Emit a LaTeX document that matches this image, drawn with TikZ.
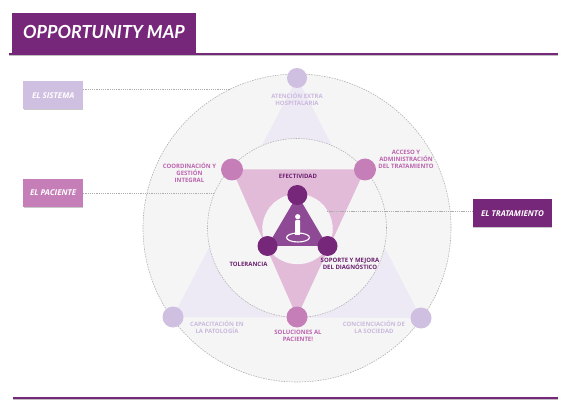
\documentclass[tikz,border=0pt]{standalone}
\usepackage{fontspec}
\setmainfont{Open Sans}
\newfontfamily\titlefont{Lato}
\usetikzlibrary{shadows,shapes.geometric}
\definecolor{cdark}{HTML}{77277A}
\definecolor{cmid}{HTML}{C57EB7}
\definecolor{clight}{HTML}{CFBFE0}
\definecolor{clav}{HTML}{EDE9F5}
\definecolor{cpink}{HTML}{E2BBD9}
\definecolor{cgrey}{HTML}{F5F5F5}
\definecolor{ccore}{HTML}{8F4A96}
\definecolor{tmid}{HTML}{BC62AE}
\definecolor{tlight}{HTML}{CBB9DE}
\definecolor{tdark}{HTML}{6A1F6E}
\tikzset{
  x=1pt,y=-1pt,
  ring/.style={circle,inner sep=0pt,minimum size=#1,draw=black!30,dash pattern=on 1.5pt off 1.1pt,line width=.6pt,fill=cgrey},
  dotc/.style={circle,inner sep=0pt,minimum size=#1},
  box/.style={inner sep=0pt,minimum height=28.5pt,font=\fontsize{8}{9}\selectfont\bfseries\itshape,text=white,
     drop shadow={shadow xshift=0.3pt,shadow yshift=-1pt,fill=black!35,opacity=.6}},
  lead/.style={draw=black!32,dash pattern=on 1.3pt off .9pt,line width=.9pt},
  lbl/.style={align=center,inner sep=0pt,font=\fontsize{6}{7}\selectfont\bfseries},
}
\begin{document}
\begin{tikzpicture}
\useasboundingbox (0,0) rectangle (580,419);
\fill[white] (0,0) rectangle (580,419);
% rules and header
\coordinate (ruleA) at (9,54);
\coordinate (ruleB) at (558,54);
\coordinate (ruleC) at (13,398);
\coordinate (ruleD) at (558,398);
\draw[black!25,line width=1pt] (9,55.3) -- (558,55.3);
\draw[cdark,line width=1.2pt] (ruleA) -- (ruleB);
\draw[black!25,line width=1pt] (13,399.5) -- (558,399.5);
\draw[cdark,line width=1.2pt] (ruleC) -- (ruleD);
\node[fill=cdark,inner sep=0pt,minimum width=184pt,minimum height=41.5pt,anchor=north west] (header) at (11.5,12.5) {};
\node[text=white,font=\titlefont\fontsize{18}{20}\selectfont\bfseries\itshape,inner sep=0pt] (title) at (104,31.5) {OPPORTUNITY MAP};
% rings
\node[ring=308pt] (outer) at (297,228) {};
\fill[clav] (297,78) -- (173,317) -- (421,318) -- cycle;
\node[ring=179pt] (inner) at (297,228) {};
\fill[cpink] (232,169.5) -- (365,169.5) -- (297,317) -- cycle;
\node[dotc=70pt,fill=cgrey,draw=white,dash pattern=on 1pt off .8pt,line width=.4pt] (core) at (297.5,229) {};
\fill[ccore] (297.5,195) -- (267.5,246) -- (327.5,246) -- cycle;
% dots
\node[dotc=20pt,fill=clight] (n1) at (297,78) {};
\node[dotc=21pt,fill=clight] (n2) at (173,317) {};
\node[dotc=21pt,fill=clight] (n3) at (421,318) {};
\node[dotc=22pt,fill=cmid] (m1) at (232,169.5) {};
\node[dotc=22pt,fill=cmid] (m2) at (365,169.5) {};
\node[dotc=21pt,fill=cmid] (m3) at (297,317) {};
\node[dotc=20pt,fill=cdark] (d1) at (297.3,195) {};
\node[dotc=20pt,fill=cdark] (d2) at (267.5,246) {};
\node[dotc=20pt,fill=cdark] (d3) at (327.5,246) {};
% person icon
\node[circle,fill=white,inner sep=0pt,minimum size=5.2pt] (head) at (297.7,216.7) {};
\node[fill=white,inner sep=0pt,minimum width=5pt,minimum height=15pt,rounded corners=.8pt] (body) at (297.7,227.5) {};
\node[ellipse,draw=white,line width=1.1pt,inner sep=0pt,minimum width=23pt,minimum height=9pt] (disc) at (298,237.5) {};
\node[fill=white,inner sep=0pt,minimum width=5pt,minimum height=5pt] (foot) at (297.7,233) {};
% boxes
\node[box,fill=clight,minimum width=59.5pt] (sis) at (53.2,95.2) {EL SISTEMA};
\node[box,fill=cmid,minimum width=59.5pt] (pac) at (53.2,193) {EL PACIENTE};
\node[box,fill=cdark,minimum width=79pt] (tra) at (512.5,213.2) {EL TRATAMIENTO};
% leaders
\coordinate (ls) at (230,89);
\coordinate (lp) at (215,193);
\coordinate (lt) at (327,211);
\draw[lead] (sis.east |- ls) -- (ls);
\draw[lead] (pac.east |- lp) -- (lp);
\draw[lead] (lt) -- (tra.west |- lt);
% labels
\node[lbl,text=tlight] (t1) at (297,99) {ATENCIÓN EXTRA\\HOSPITALARIA};
\node[lbl,text=tmid] (t2) at (189.5,173) {COORDINACIÓN Y\\GESTIÓN\\INTEGRAL};
\node[lbl,text=tmid] (t3) at (406,159) {ACCESO Y\\ADMINISTRACIÓN\\DEL TRATAMIENTO};
\node[lbl,text=tdark] (t4) at (298,176) {EFECTIVIDAD};
\node[lbl,text=tdark] (t5) at (248.5,264) {TOLERANCIA};
\node[lbl,text=tdark] (t6) at (350,263.5) {SOPORTE Y MEJORA\\DEL DIAGNÓSTICO};
\node[lbl,text=tlight] (t7) at (217,327.5) {CAPACITACIÓN EN\\LA PATOLOGÍA};
\node[lbl,text=tmid] (t8) at (298,335.5) {SOLUCIONES AL\\PACIENTE!};
\node[lbl,text=tlight] (t9) at (374,327.5) {CONCIENCIACIÓN DE\\LA SOCIEDAD};
\end{tikzpicture}
\end{document}
